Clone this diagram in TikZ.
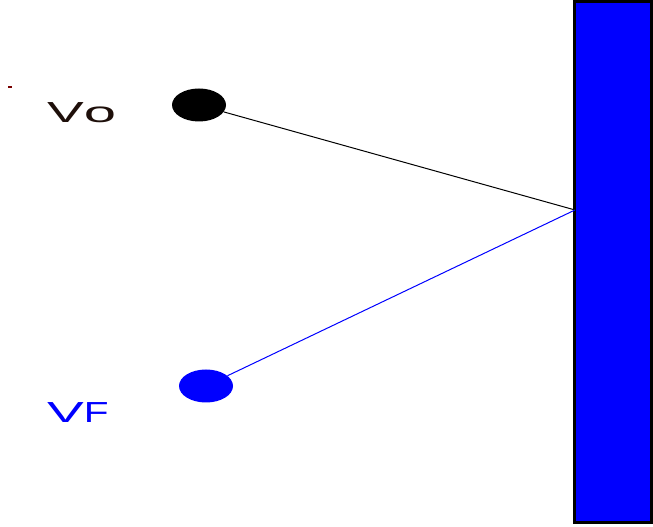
\documentclass[tikz,border=0pt]{standalone}
\usepackage{fontspec}
\setmainfont{Liberation Sans}
\usetikzlibrary{shapes.geometric}
\definecolor{pureblue}{RGB}{0,0,255}
\definecolor{labeldark}{RGB}{30,15,10}
\definecolor{speck}{RGB}{120,0,0}
\begin{document}
\begin{tikzpicture}[x=1pt,y=1pt,
  dot/.style={ellipse,minimum width=54pt,minimum height=33pt,inner sep=0pt},
  lbl/.style={anchor=base west,inner sep=0pt,font=\fontsize{29}{30}\selectfont}]
\useasboundingbox (0,0) rectangle (653,527);
% wall
\draw[line width=3pt,fill=pureblue] (574,4) rectangle (651.5,525.5) ;
\coordinate (hit) at (575,317);
% dots
\node[dot,fill=black] (vo) at (199,422) {};
\node[dot,fill=pureblue] (vf) at (206,141) {};
% labels
\node[lbl,text=labeldark] (lvo) at (47,404) {\scalebox{1.9}[1]{V}\scalebox{2.0}[1]{o}};
\node[lbl,text=pureblue] (lvf) at (47,104) {\scalebox{1.9}[1]{V}\scalebox{1.4}[1]{F}};
% speck
\fill[speck] (8,439) rectangle (12,441);
% rays
\draw[line width=1pt] (vo) -- (hit);
\draw[line width=1pt,pureblue] (vf) -- (hit);
\end{tikzpicture}
\end{document}
